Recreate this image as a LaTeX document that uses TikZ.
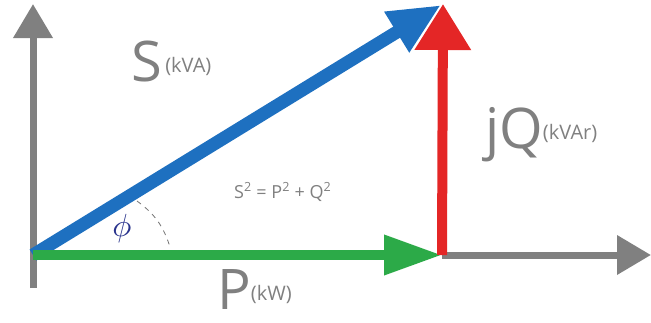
\documentclass[tikz,border=0pt]{standalone}
\usepackage{fontspec}
\setmainfont{Open Sans}
\usetikzlibrary{arrows.meta}
\definecolor{axgray}{RGB}{128,128,128}
\definecolor{vblue}{RGB}{30,112,192}
\definecolor{vred}{RGB}{228,38,38}
\definecolor{vgreen}{RGB}{44,170,72}
\definecolor{phiblue}{RGB}{40,50,140}
\newcommand{\biglbl}[2]{{\fontsize{56}{56}\selectfont #1}\raisebox{9pt}{\fontsize{20}{20}\selectfont #2}}
\begin{document}
\begin{tikzpicture}[x=1pt,y=-1pt,
  axis/.style={draw=axgray,line width=7pt,-{Triangle[length=34pt,width=38pt]}},
  vec/.style={line width=#1},
  lbl/.style={text=axgray,inner sep=0pt,anchor=base west}]
\useasboundingbox (0,0) rectangle (651,322);
\coordinate (O) at (33,255);
\coordinate (Ybot) at (33,288);
\coordinate (Ytop) at (33,4);
\coordinate (Pend) at (442,255);
\coordinate (Xend) at (651,255);
\coordinate (Send) at (441,5);
\coordinate (Qend) at (443,4);
% axes
\draw[axis] (Ybot) -- (Ytop);
\draw[axis] (Pend) -- (Xend);
% vectors
\draw[vec=13pt,draw=vblue,fill=vblue,-{Triangle[length=52pt,width=44pt]}] (O) -- (Send);
\draw[vec=10pt,draw=vgreen,fill=vgreen,-{Triangle[length=58pt,width=38pt]}] (O) -- (Pend);
\draw[vec=10pt,draw=vred,fill=vred,-{Triangle[length=46pt,width=54pt]}] (Pend) -- (Qend);
% angle arc
\coordinate (A0) at (137,201);
\coordinate (A1) at (170,247);
\draw[black!55,dash pattern=on 5pt off 5pt,line width=0.8pt] (A0) to[bend left=18] (A1);
% labels
\node[lbl] (S) at (131,81) {\biglbl{S}{\,(kVA)}};
\node[lbl] (Q) at (485,148) {\biglbl{jQ}{(kVAr)}};
\node[lbl] (P) at (217,309) {\biglbl{P}{(kW)}};
\node[lbl] (eq) at (234,198) {\fontsize{18}{18}\selectfont S\textsuperscript{2} = P\textsuperscript{2} + Q\textsuperscript{2}};
\node[text=phiblue,inner sep=0pt] (phi) at (122,228) {\scalebox{3.2}{$\phi$}};
\end{tikzpicture}
\end{document}
